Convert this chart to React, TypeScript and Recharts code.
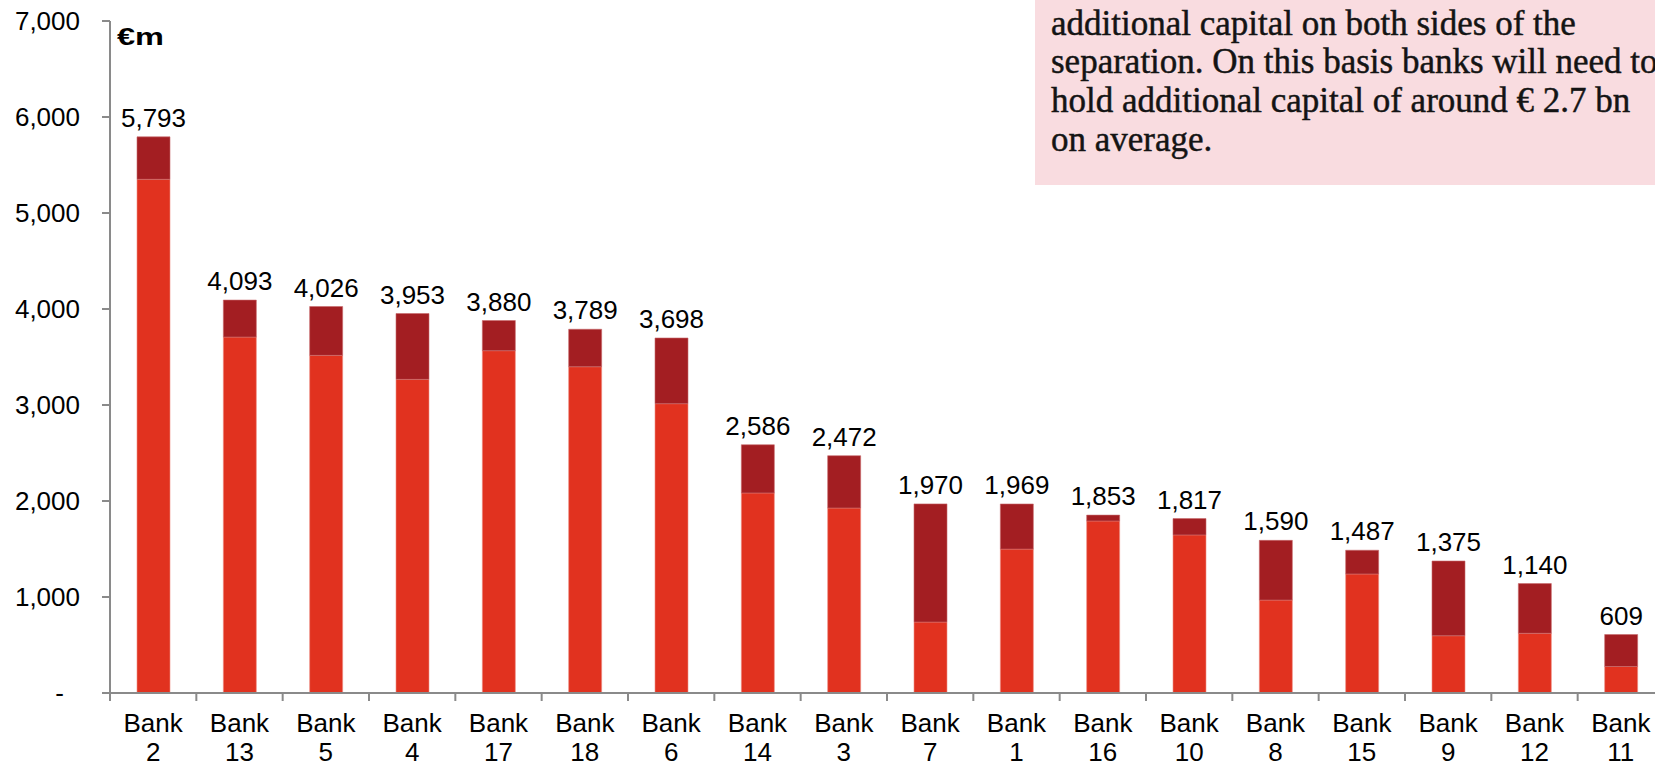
import React from "react";
import { BarChart, Bar, XAxis, YAxis, LabelList } from "recharts";

const banks = [
  "Bank 2", "Bank 13", "Bank 5", "Bank 4", "Bank 17", "Bank 18", "Bank 6", "Bank 14", "Bank 3",
  "Bank 7", "Bank 1", "Bank 16", "Bank 10", "Bank 8", "Bank 15", "Bank 9", "Bank 12", "Bank 11",
];

// lower (bright red) and upper (dark red) parts of each bar, € m
const lowerPart = [5351, 3708, 3517, 3267, 3566, 3399, 3014, 2084, 1927, 739, 1499, 1792, 1647, 968, 1240, 597, 622, 276];
const upperPart = [442, 385, 509, 686, 314, 390, 684, 502, 545, 1231, 470, 61, 170, 622, 247, 778, 518, 333];

const yTicks = [0, 1000, 2000, 3000, 4000, 5000, 6000, 7000];

const noteLines = [
  "additional capital on both sides of the",
  "separation. On this basis banks will need to",
  "hold additional capital of around € 2.7 bn",
  "on average.",
];

const data = banks.map((bank, i) => ({
  bank,
  lower: lowerPart[i],
  upper: upperPart[i],
  total: lowerPart[i] + upperPart[i],
}));

const AXIS = "#8a8a8a";
const FONT = "'Liberation Sans', Arial, sans-serif";

const fmt = (v: number) => v.toLocaleString("en-US");

const ValueTick = (props: any) => {
  const { x, y, payload } = props;
  const zero = payload.value === 0;
  return (
    <text
      x={zero ? x - 16 : x}
      y={y}
      dy="0.36em"
      textAnchor="end"
      fontSize={26}
      fontFamily={FONT}
      fill="#000"
    >
      {zero ? "-" : fmt(payload.value)}
    </text>
  );
};

const BankTick = (props: any) => {
  const { x, y, payload } = props;
  const half = payload.offset || 43.17;
  const [word, num] = String(payload.value).split(" ");
  return (
    <g>
      <line x1={x - half} x2={x - half} y1={y} y2={y + 8} stroke={AXIS} strokeWidth={2} />
      <text x={x} y={y + 39} textAnchor="middle" fontSize={26} fontFamily={FONT} fill="#000">
        {word}
      </text>
      <text x={x} y={y + 68} textAnchor="middle" fontSize={26} fontFamily={FONT} fill="#000">
        {num}
      </text>
    </g>
  );
};

export default function App() {
  return (
    <div
      style={{
        position: "fixed",
        top: 0,
        left: 0,
        width: 1655,
        height: 767,
        overflow: "hidden",
        background: "#fff",
      }}
    >
      <BarChart
        width={1680}
        height={767}
        data={data}
        margin={{ top: 21, right: 16, bottom: 0, left: 0 }}
        barSize={33}
      >
        <XAxis
          dataKey="bank"
          height={74}
          interval={0}
          tickLine={false}
          tickSize={0}
          tickMargin={0}
          axisLine={{ stroke: AXIS, strokeWidth: 2 }}
          tick={<BankTick />}
        />
        <YAxis
          width={110}
          domain={[0, 7000]}
          ticks={yTicks}
          interval={0}
          tickSize={8}
          tickMargin={22}
          axisLine={{ stroke: AXIS, strokeWidth: 2 }}
          tickLine={{ stroke: AXIS, strokeWidth: 2 }}
          tick={<ValueTick />}
        />
        <Bar dataKey="lower" stackId="a" fill="#E1321F" stroke="#ee8f85" strokeWidth={0.6} isAnimationActive={false} />
        <Bar dataKey="upper" stackId="a" fill="#A31E22" stroke="#c76a6c" strokeWidth={0.6} isAnimationActive={false}>
          <LabelList
            dataKey="total"
            position="top"
            offset={10}
            formatter={(v: any) => fmt(Number(v))}
            style={{ fontSize: 26, fontFamily: FONT, fill: "#000" }}
          />
        </Bar>
      </BarChart>
      <svg
        width={1655}
        height={767}
        style={{ position: "absolute", top: 0, left: 0, pointerEvents: "none" }}
      >
        <text
          x={117}
          y={45}
          fontSize={23}
          fontWeight="bold"
          fontFamily={FONT}
          textLength={47}
          lengthAdjust="spacingAndGlyphs"
          fill="#000"
        >
          €m
        </text>
        <rect x={1035} y={0} width={640} height={185} fill="#F9DCE0" />
        {noteLines.map((line, i) => (
          <text
            key={i}
            x={1051}
            y={34.5 + i * 38.7}
            fontSize={35}
            fontFamily="'Liberation Serif', 'Times New Roman', serif"
            fill="#141414"
            stroke="#141414"
            strokeWidth={0.45}
          >
            {line}
          </text>
        ))}
      </svg>
    </div>
  );
}
